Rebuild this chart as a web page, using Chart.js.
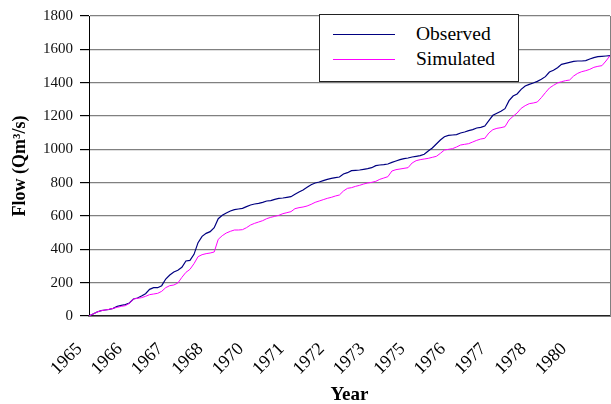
<!DOCTYPE html>
<html>
<head>
<meta charset="utf-8">
<script src="https://cdn.jsdelivr.net/npm/chart.js@4.4.1/dist/chart.umd.min.js"></script>
<style>
  body { margin: 0; background: #fff; }
  #wrap { position: relative; width: 611px; height: 404px; }
  #legend {
    position: absolute; left: 319px; top: 14px; width: 198px; height: 66px;
    border: 1px solid #222; background: #fff;
    font-family: "Liberation Serif", "Times New Roman", serif; font-size: 19.5px; color: #000;
  }
  #legend .row { position: absolute; left: 0; height: 24px; }
  #legend .swatch { position: absolute; left: 13px; width: 62px; height: 0; border-top: 1px solid; }
  #legend .label { position: absolute; left: 96px; white-space: nowrap; }
</style>
</head>
<body>
<div id="wrap">
  <canvas id="graphCanvas" width="611" height="404"></canvas>
  <div id="legend"></div>
</div>
<script>
// year labels shown every 10 points along the category axis
var yearTicks = ['1965','1966','1967','1968','1970','1971','1972','1973','1975','1976','1977','1978','1980'];
var tickEvery = 10;

var observed = [
  0, 12, 24, 32, 36, 40, 46, 58, 64, 68,
  78, 102, 108, 120, 134, 160, 170, 170, 182, 222,
  246, 264, 274, 292, 330, 334, 370, 440, 478, 496,
  506, 530, 584, 604, 618, 630, 638, 642, 646, 656,
  666, 672, 676, 682, 690, 692, 700, 706, 708, 712,
  716, 730, 744, 756, 772, 788, 798, 804, 812, 820,
  826, 830, 834, 852, 860, 872, 874, 876, 880, 884,
  890, 902, 906, 908, 912, 922, 930, 938, 944, 948,
  954, 958, 962, 970, 990, 1008, 1032, 1056, 1076, 1084,
  1086, 1088, 1098, 1104, 1112, 1118, 1128, 1132, 1140, 1172,
  1204, 1216, 1228, 1244, 1292, 1320, 1332, 1360, 1380, 1390,
  1398, 1408, 1420, 1436, 1464, 1474, 1490, 1510, 1516, 1522,
  1528, 1530, 1530, 1532, 1542, 1550, 1556, 1558, 1560, 1562
];

var simulated = [
  0, 12, 24, 32, 36, 40, 46, 52, 58, 62,
  76, 102, 106, 110, 118, 128, 132, 136, 148, 170,
  182, 186, 198, 232, 262, 280, 314, 356, 368, 374,
  378, 384, 460, 482, 498, 508, 516, 516, 518, 530,
  546, 556, 564, 572, 584, 592, 598, 604, 614, 620,
  626, 644, 650, 654, 660, 670, 682, 690, 698, 706,
  712, 720, 726, 750, 766, 770, 778, 784, 792, 798,
  802, 808, 820, 828, 836, 870, 878, 882, 886, 890,
  918, 932, 938, 942, 946, 952, 958, 976, 996, 1000,
  1004, 1014, 1026, 1030, 1034, 1044, 1054, 1062, 1066, 1098,
  1118, 1126, 1130, 1136, 1176, 1198, 1218, 1246, 1262, 1274,
  1278, 1284, 1310, 1340, 1368, 1384, 1398, 1406, 1412, 1416,
  1440, 1456, 1466, 1472, 1480, 1492, 1498, 1502, 1530, 1562
];

var seriesNames = ['Observed', 'Simulated'];
var seriesColors = ['#000080', '#ff00ff'];

var labels = [];
for (var i = 0; i < observed.length; i++) {
  labels.push(i % tickEvery == 0 && yearTicks[i / tickEvery] ? yearTicks[i / tickEvery] : '');
}

var serif = '"Liberation Serif", "Times New Roman", serif';

var chartdata = {
  labels: labels,
  datasets: [
    {
      label: seriesNames[1],
      data: simulated,
      borderColor: seriesColors[1],
      borderWidth: 1,
      pointRadius: 0,
      fill: false,
      tension: 0
    },
    {
      label: seriesNames[0],
      data: observed,
      borderColor: seriesColors[0],
      borderWidth: 1.2,
      pointRadius: 0,
      fill: false,
      tension: 0
    }
  ]
};

window.bar = new Chart(document.getElementById('graphCanvas'), {
  type: 'line',
  data: chartdata,
  options: {
    responsive: false,
    animation: false,
    events: [],
    layout: { padding: { top: 16, right: 0, left: 0, bottom: 0 } },
    plugins: {
      legend: { display: false },
      tooltip: { enabled: false }
    },
    scales: {
      x: {
        grid: { display: false },
        border: { color: '#222', width: 1.5 },
        ticks: {
          autoSkip: false,
          maxRotation: 45,
          minRotation: 45,
          padding: 5,
          color: '#000',
          font: { family: serif, size: 18 },
          // pad the end so the rotated text sits a bit left of its tick
          callback: function (v, idx) {
            var t = this.getLabelForValue(v);
            return t ? t + '\u00a0\u00a0\u00a0' : '';
          }
        },
        title: {
          display: true,
          text: 'Year',
          color: '#000',
          padding: { top: 0, bottom: -1 },
          font: { family: serif, size: 19, weight: 'bold', lineHeight: 1 }
        },
        afterFit: function (s) { s.height = 88; s.paddingRight = 0; }
      },
      y: {
        min: 0,
        max: 1800,
        ticks: {
          stepSize: 200,
          padding: 7,
          color: '#111',
          font: { family: serif, size: 15 },
          callback: function (v) { return String(v); }
        },
        grid: {
          color: '#808080',
          lineWidth: 1.2,
          tickColor: '#000',
          tickLength: 9
        },
        border: { color: '#000', width: 1 },
        title: {
          display: true,
          text: 'Flow (Qm³/s)',
          color: '#000',
          padding: { top: 11, bottom: 0 },
          font: { family: serif, size: 18, weight: 'bold', lineHeight: 1 }
        },
        afterFit: function (s) { s.width = 89; }
      },
      y2: {
        position: 'right',
        min: 0,
        max: 1800,
        ticks: { display: false },
        grid: { display: false, drawTicks: false },
        border: { color: '#808080', width: 1 },
        afterFit: function (s) { s.width = 1; }
      }
    }
  }
});

// legend box like the original
var legend = document.getElementById('legend');
var rowTops = [8, 33];
var order = [0, 1];
for (var k = 0; k < order.length; k++) {
  var n = order[k];
  var row = document.createElement('div');
  row.className = 'row';
  row.style.top = rowTops[k] + 'px';
  row.innerHTML = '<div class="swatch" style="top:11px;border-color:' + seriesColors[n] + '"></div>' +
    '<div class="label" style="top:0px">' + seriesNames[n] + '</div>';
  legend.appendChild(row);
}
</script>
</body>
</html>
